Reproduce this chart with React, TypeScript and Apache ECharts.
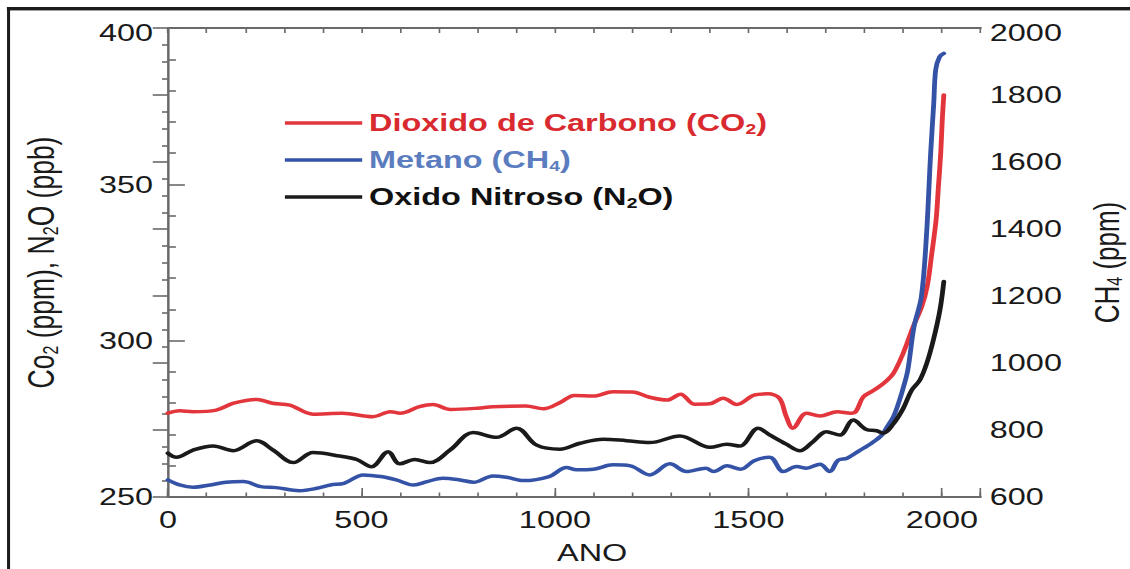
import React, { useEffect, useRef } from "react";
import * as echarts from "echarts";

// ---- data ----
const co2Years = [0, 30, 65, 125, 170, 230, 270, 315, 375, 450, 530, 575, 600, 650, 685, 730, 800, 840, 925, 970, 1015, 1050, 1100, 1150, 1200, 1245, 1290, 1325, 1360, 1400, 1435, 1470, 1515, 1550, 1580, 1598, 1615, 1650, 1685, 1730, 1765, 1778, 1797, 1825, 1850, 1875, 1900, 1926, 1948, 1962, 1974, 1985, 1991, 1997, 2001, 2005];
const co2Values = [276.8, 277.6, 277.3, 277.8, 280.0, 281.2, 280.0, 279.4, 276.5, 276.8, 275.7, 277.3, 276.8, 278.9, 279.6, 278.0, 278.4, 278.9, 279.1, 278.2, 280.3, 282.5, 282.3, 283.7, 283.6, 281.9, 281.0, 282.9, 279.7, 279.8, 281.6, 279.6, 282.6, 283.0, 281.6, 275.7, 272.0, 276.8, 275.9, 277.3, 276.8, 277.4, 282.0, 284.2, 286.4, 289.6, 296.0, 304.5, 310.9, 317.3, 327.9, 338.6, 349.2, 359.9, 370.6, 378.6];

const ch4Years = [0, 30, 65, 110, 150, 195, 240, 280, 340, 385, 420, 455, 505, 550, 590, 635, 670, 710, 755, 790, 840, 875, 920, 985, 1030, 1056, 1100, 1150, 1195, 1245, 1297, 1340, 1390, 1410, 1445, 1480, 1515, 1555, 1590, 1625, 1650, 1685, 1710, 1732, 1755, 1785, 1820, 1845, 1860, 1875, 1888, 1900, 1912, 1928, 1947, 1960, 1971, 1979, 1984, 1994, 2005];
const ch4Values = [651, 636, 629, 636, 644, 646, 631, 628, 619, 626, 636, 641, 666, 661, 651, 636, 646, 656, 651, 644, 663, 659, 649, 661, 688, 681, 683, 696, 693, 666, 699, 676, 686, 676, 693, 683, 708, 719, 676, 691, 686, 698, 676, 710, 716, 737, 762, 785, 812, 840, 880, 925, 979, 1108, 1198, 1377, 1626, 1775, 1875, 1914, 1924];

const n2oYears = [0, 22, 65, 117, 169, 229, 272, 324, 375, 444, 488, 526, 569, 599, 638, 677, 729, 789, 849, 901, 953, 1013, 1065, 1125, 1185, 1245, 1323, 1401, 1444, 1478, 1525, 1556, 1598, 1633, 1667, 1702, 1736, 1771, 1805, 1831, 1848, 1874, 1900, 1922, 1943, 1961, 1978, 1995, 2005];
const n2oValues = [264, 262.7, 265, 266.3, 264.8, 268, 265, 261, 264.2, 263.1, 262, 259.7, 264.5, 260.6, 262, 261, 265, 270.6, 269.1, 272, 266.6, 265.3, 267.2, 268.5, 268, 267.4, 269.5, 265.9, 266.9, 266.3, 272, 269.8, 266.9, 264.8, 267.7, 270.9, 269.8, 274.6, 271.6, 271.2, 270.4, 273.3, 278.3, 284.2, 287.4, 292.8, 300.2, 309.8, 318.9];

const seriesNames = ["Dioxido de Carbono (CO₂)", "Metano (CH₄)", "Oxido Nitroso (N₂O)"];
const legendRich = [
  "{r|Dioxido de Carbono (CO}{rs|2}{r|)}",
  "{b|Metano (CH}{bs|4}{b|)}",
  "{k|Oxido Nitroso (N}{ks|2}{k|O)}",
];
const xAxisTitle = "ANO";
const leftAxisTitle = "{t|Co}{s|2}{t| (ppm), N}{s|2}{t|O (ppb)}";
const rightAxisTitle = "{t|CH}{s|4}{t| (ppm)}";

const xMin = 0, xMax = 2100, xMajor = 500, xMinor = 100, xLastLabel = 2000;
const yLeftMin = 250, yLeftMax = 400, yLeftInterval = 50;
const yRightMin = 600, yRightMax = 2000, yRightInterval = 200;

const INNER_W = 819;
const FULL_W = 1130;
const H = 569;
const FONT = "'Liberation Sans', Arial, Helvetica, sans-serif";
const AXIS = "#6a6a6a";
const TXT = "#1a1a1a";

const zip = (xs: number[], ys: number[]) => xs.map((x, i) => [x, ys[i]]);

export default function App() {
  const ref = useRef<HTMLDivElement>(null);
  useEffect(() => {
    if (!ref.current) return;
    const chart = echarts.init(ref.current, undefined, { renderer: "svg" });
    const labelStyle = { fontSize: 23.5, color: TXT, fontFamily: FONT };
    const legendFont = { fontSize: 23.5, fontWeight: "bold" as const, fontFamily: FONT, lineHeight: 26 };
    const subFont = { fontSize: 14, fontWeight: "bold" as const, fontFamily: FONT, verticalAlign: "bottom" as const, lineHeight: 14 };
    const yLabelRich = { top: { ...labelStyle, padding: [10, 0, 0, 0] } };
    const option: any = {
      animation: false,
      backgroundColor: "#ffffff",
      grid: {
        left: 121.7,
        right: INNER_W - 710.7,
        top: 28,
        bottom: 72,
        containLabel: false,
        outerBoundsMode: "none",
      },
      legend: {
        orient: "vertical",
        left: 206.5,
        top: 110,
        padding: 0,
        itemGap: 11,
        itemWidth: 56,
        itemHeight: 3.5,
        icon: "rect",
        selectedMode: false,
        data: seriesNames.map((n) => ({ name: n })),
        formatter: (name: string) => legendRich[seriesNames.indexOf(name)],
        textStyle: {
          ...legendFont,
          rich: {
            r: { ...legendFont, color: "#d92a30" },
            rs: { ...subFont, color: "#d92a30" },
            b: { ...legendFont, color: "#5b7dbf" },
            bs: { ...subFont, color: "#5b7dbf" },
            k: { ...legendFont, color: "#111111" },
            ks: { ...subFont, color: "#111111" },
          },
        },
      },
      xAxis: [
        {
          type: "value",
          position: "bottom",
          min: xMin,
          max: xMax,
          interval: xMajor,
          axisLine: { show: true, lineStyle: { color: AXIS, width: 2 } },
          axisTick: { show: true, inside: true, length: 9, lineStyle: { color: AXIS, width: 1.2 } },
          axisLabel: {
            ...labelStyle,
            margin: 11,
            formatter: (v: number) => (v % xMajor === 0 && v <= xLastLabel ? String(v) : ""),
          },
          splitLine: { show: false },
          name: xAxisTitle,
          nameLocation: "middle",
          nameGap: 44,
          nameTextStyle: { ...labelStyle, padding: [0, 0, 0, 26] },
        },
        {
          type: "value",
          position: "bottom",
          min: xMin,
          max: xMax,
          interval: xMinor,
          axisLine: { show: false },
          axisTick: { show: true, inside: true, length: 4.5, lineStyle: { color: AXIS, width: 1.2 } },
          axisLabel: { show: false },
          splitLine: { show: false },
        },
        {
          type: "value",
          position: "top",
          min: xMin,
          max: xMax,
          interval: xMinor,
          axisLine: { show: true, lineStyle: { color: AXIS, width: 2 } },
          axisTick: { show: true, inside: true, length: 5, lineStyle: { color: AXIS, width: 1.2 } },
          axisLabel: { show: false },
          splitLine: { show: false },
        },
      ],
      yAxis: [
        {
          type: "value",
          position: "left",
          min: yLeftMin,
          max: yLeftMax,
          interval: yLeftInterval,
          axisLine: { show: true, lineStyle: { color: AXIS, width: 1.5 } },
          axisTick: { show: true, inside: true, length: 12.3, lineStyle: { color: AXIS, width: 1.6 } },
          minorTick: { show: true, splitNumber: 5, length: 5.8, lineStyle: { color: AXIS, width: 1.6 } },
          axisLabel: {
            ...labelStyle,
            margin: 10.8,
            formatter: (v: number) => (v === yLeftMax ? `{top|${v}}` : String(v)),
            rich: yLabelRich,
          },
          splitLine: { show: false },
          minorSplitLine: { show: false },
          name: leftAxisTitle,
          nameLocation: "middle",
          nameRotate: 90,
          nameGap: 77,
          nameTextStyle: {
            color: TXT,
            fontFamily: FONT,
            fontSize: 26.5,
            rich: {
              t: { fontSize: 26.5, fontFamily: FONT, color: TXT, lineHeight: 30 },
              s: { fontSize: 16, fontFamily: FONT, color: TXT, verticalAlign: "bottom", lineHeight: 16 },
            },
          },
        },
        {
          type: "value",
          position: "right",
          min: yRightMin,
          max: yRightMax,
          interval: yRightInterval,
          axisLine: { show: true, lineStyle: { color: AXIS, width: 1.5 } },
          axisTick: { show: true, inside: true, length: 11, lineStyle: { color: AXIS, width: 1.6 } },
          minorTick: { show: true, splitNumber: 4, length: 4.3, lineStyle: { color: AXIS, width: 1.6 } },
          axisLabel: {
            ...labelStyle,
            margin: 6.7,
            formatter: (v: number) => (v === yRightMax ? `{top|${v}}` : String(v)),
            rich: yLabelRich,
          },
          splitLine: { show: false },
          minorSplitLine: { show: false },
          name: rightAxisTitle,
          nameLocation: "middle",
          nameRotate: 90,
          nameGap: 78,
          nameTextStyle: {
            color: TXT,
            fontFamily: FONT,
            fontSize: 26,
            rich: {
              t: { fontSize: 26, fontFamily: FONT, color: TXT, lineHeight: 27 },
              s: { fontSize: 16, fontFamily: FONT, color: TXT, verticalAlign: "bottom", lineHeight: 16 },
            },
          },
        },
      ],
      series: [
        {
          name: seriesNames[0],
          type: "line",
          xAxisIndex: 0,
          yAxisIndex: 0,
          data: zip(co2Years, co2Values),
          smooth: 0.35,
          showSymbol: false,
          color: "#e2363c",
          lineStyle: { color: "#e2363c", width: 3.5, cap: "round", join: "round" },
        },
        {
          name: seriesNames[1],
          type: "line",
          xAxisIndex: 0,
          yAxisIndex: 1,
          data: zip(ch4Years, ch4Values),
          smooth: 0.35,
          showSymbol: false,
          color: "#3553a6",
          lineStyle: { color: "#3553a6", width: 3.5, cap: "round", join: "round" },
        },
        {
          name: seriesNames[2],
          type: "line",
          xAxisIndex: 0,
          yAxisIndex: 0,
          data: zip(n2oYears, n2oValues),
          smooth: 0.35,
          showSymbol: false,
          color: "#1a1a1a",
          lineStyle: { color: "#1a1a1a", width: 3.5, cap: "round", join: "round" },
        },
      ],
      graphic: [
        { type: "line", shape: { x1: 5, y1: 8.5, x2: INNER_W, y2: 8.5 }, style: { stroke: "#1c1c1c", lineWidth: 3 } },
        { type: "line", shape: { x1: 5, y1: 10.5, x2: INNER_W, y2: 10.5 }, style: { stroke: "#a0a0a0", lineWidth: 1 } },
        { type: "line", shape: { x1: 6.2, y1: 7, x2: 6.2, y2: H }, style: { stroke: "#1c1c1c", lineWidth: 2.2 } },
      ],
    };
    chart.setOption(option);
    return () => chart.dispose();
  }, []);
  return (
    <div
      ref={ref}
      style={{
        position: "fixed",
        left: 0,
        top: 0,
        width: INNER_W,
        height: H,
        transform: `scaleX(${FULL_W / INNER_W})`,
        transformOrigin: "0 0",
        background: "#ffffff",
      }}
    />
  );
}
